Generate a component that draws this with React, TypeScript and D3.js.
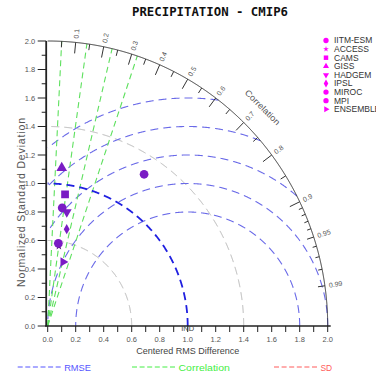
import React, { useEffect, useRef } from 'react';
import * as d3 from 'd3';

// models and their (normalized SD, correlation)
const models = ['IITM-ESM', 'ACCESS', 'CAMS', 'GISS', 'HADGEM', 'IPSL', 'MIROC', 'MPI', 'ENSEMBLE'];
const stdDev = [1.268, 0.566, 0.932, 1.114, 0.811, 0.693, 0.836, 0.585, 0.463];
const correl = [0.543, 0.141, 0.133, 0.09, 0.168, 0.196, 0.124, 0.13, 0.238];
const markerKinds = ['circle', 'star', 'square', 'triUp', 'triDown', 'diamond', 'circle', 'circle', 'triRight'];

const rmseRadii = [0.8, 1.0, 1.2, 1.4, 1.6];
const sdRadii = [0.6, 1.4];
const refSd = 1.0;
const corrLines = [0.05, 0.14, 0.23, 0.32];
const corrMajor = [0.1, 0.2, 0.3, 0.4, 0.5, 0.6, 0.7, 0.8, 0.9, 0.95, 0.99];
const corrMinor = [0.05, 0.15, 0.25, 0.35, 0.45, 0.55, 0.65, 0.75, 0.85, 0.91, 0.92, 0.93, 0.94, 0.96, 0.97, 0.98];
const axisMajor = [0, 0.2, 0.4, 0.6, 0.8, 1.0, 1.2, 1.4, 1.6, 1.8, 2.0];
const axisMinor = [0.1, 0.3, 0.5, 0.7, 0.9, 1.1, 1.3, 1.5, 1.7, 1.9];
const legendItems = ['RMSE', 'Correlation', 'SD'];
const legendColors = ['#5555ff', '#44ee44', '#ff5a5a'];

const W = 376;
const H = 375;
const SANS = '"Liberation Sans", Arial, sans-serif';

const TaylorChart = () => {
  const svgRef = useRef(null);

  useEffect(() => {
    const svg = d3.select(svgRef.current);
    svg.selectAll('*').remove();

    const x = d3.scaleLinear().domain([0, 2]).range([47.7, 327.7]);
    const y = d3.scaleLinear().domain([0, 2]).range([326, 41]);
    const maxR = 2;

    const inside = (d) => d[0] >= -1e-9 && d[1] >= -1e-9 && d[0] * d[0] + d[1] * d[1] <= maxR * maxR + 1e-9;
    const line = d3.line().x(d => x(d[0])).y(d => y(d[1])).defined(inside);

    const circlePts = (cx, r) => d3.range(0, 1441).map(i => {
      const a = Math.PI * i / 1440;
      return [cx + r * Math.cos(a), r * Math.sin(a)];
    });

    const g = svg.append('g');

    // SD circles (gray)
    g.selectAll('.sd').data(sdRadii).join('path')
      .attr('class', 'sd')
      .attr('d', r => line(circlePts(0, r)))
      .attr('fill', 'none').attr('stroke', '#b4b4b4').attr('stroke-width', 1)
      .attr('stroke-dasharray', '8,5');

    // RMSE circles centred at the reference
    g.selectAll('.rmse').data(rmseRadii).join('path')
      .attr('class', 'rmse')
      .attr('d', r => line(circlePts(refSd, r)))
      .attr('fill', 'none').attr('stroke', '#6a6ae8').attr('stroke-width', 1.1)
      .attr('stroke-dasharray', '8,5');

    // correlation lines
    g.selectAll('.corr').data(corrLines).join('line')
      .attr('class', 'corr')
      .attr('x1', x(0)).attr('y1', y(0))
      .attr('x2', c => x(maxR * c)).attr('y2', c => y(maxR * Math.sqrt(1 - c * c)))
      .attr('stroke', '#5ee05e').attr('stroke-width', 1.1)
      .attr('stroke-dasharray', '6,4');

    // reference SD arc
    g.append('path')
      .attr('d', line(circlePts(0, refSd)))
      .attr('fill', 'none').attr('stroke', '#1f1fe0').attr('stroke-width', 1.8)
      .attr('stroke-dasharray', '8,5');

    // outer arc
    g.append('path')
      .attr('d', line(circlePts(0, maxR)))
      .attr('fill', 'none').attr('stroke', '#333').attr('stroke-width', 1);

    const ox = x(0), oy = y(0);
    const tickGeom = (c) => {
      const px = x(maxR * c), py = y(maxR * Math.sqrt(1 - c * c));
      const dx = ox - px, dy = oy - py;
      const len = Math.hypot(dx, dy);
      return { px, py, ux: dx / len, uy: dy / len, ang: Math.atan2(oy - py, px - ox) * 180 / Math.PI };
    };

    g.selectAll('.ctick').data(corrMajor.concat(corrMinor)).join('line')
      .attr('class', 'ctick')
      .each(function (c) {
        const t = tickGeom(c);
        const l = c < 0.92 && corrMajor.includes(c) ? 11 : (corrMajor.includes(c) ? 7 : (c > 0.9 ? 4 : 6));
        d3.select(this)
          .attr('x1', t.px).attr('y1', t.py)
          .attr('x2', t.px + l * t.ux).attr('y2', t.py + l * t.uy);
      })
      .attr('stroke', '#333').attr('stroke-width', 1);

    g.selectAll('.clabel').data(corrMajor).join('text')
      .attr('class', 'clabel')
      .attr('transform', c => {
        const t = tickGeom(c);
        return `translate(${t.px - 4 * t.ux},${t.py - 4 * t.uy}) rotate(${-t.ang})`;
      })
      .attr('dy', '0.35em')
      .attr('font-family', SANS).attr('font-size', 7).attr('fill', '#555')
      .text(c => String(c));

    {
      const a = 45 * Math.PI / 180;
      g.append('text')
        .attr('transform', `translate(${x(2.17 * Math.cos(a))},${y(2.17 * Math.sin(a))}) rotate(45)`)
        .attr('text-anchor', 'middle').attr('dy', '0.35em')
        .attr('font-family', SANS).attr('font-size', 8.5).attr('fill', '#555')
        .attr('textLength', 46).attr('lengthAdjust', 'spacingAndGlyphs')
        .text('Correlation');
    }

    // axes
    const axisColor = '#222';
    g.append('line').attr('x1', ox - 1.5).attr('x2', ox - 1.5).attr('y1', y(2)).attr('y2', oy + 0.5)
      .attr('stroke', axisColor).attr('stroke-width', 1.8);
    g.append('line').attr('x1', ox - 2.5).attr('x2', x(2) + 3).attr('y1', oy).attr('y2', oy)
      .attr('stroke', axisColor).attr('stroke-width', 1.6);

    g.selectAll('.ytm').data(axisMajor).join('line')
      .attr('class', 'ytm')
      .attr('x1', ox - 10).attr('x2', ox - 1.5).attr('y1', d => y(d)).attr('y2', d => y(d))
      .attr('stroke', axisColor).attr('stroke-width', 1);
    g.selectAll('.ytn').data(axisMinor).join('line')
      .attr('class', 'ytn')
      .attr('x1', ox - 6).attr('x2', ox - 1.5).attr('y1', d => y(d)).attr('y2', d => y(d))
      .attr('stroke', axisColor).attr('stroke-width', 1);
    g.selectAll('.ytl').data(axisMajor).join('text')
      .attr('class', 'ytl')
      .attr('x', ox - 12.5).attr('y', d => y(d)).attr('dy', '0.35em')
      .attr('text-anchor', 'end')
      .attr('font-family', SANS).attr('font-size', 7.5).attr('fill', '#555')
      .text(d => d.toFixed(1));

    g.selectAll('.xt').data(axisMajor.concat(axisMinor)).join('line')
      .attr('class', 'xt')
      .attr('x1', d => x(d)).attr('x2', d => x(d)).attr('y1', oy).attr('y2', oy + 6)
      .attr('stroke', axisColor).attr('stroke-width', 1);
    g.selectAll('.xtl').data(axisMajor).join('text')
      .attr('class', 'xtl')
      .attr('x', d => x(d)).attr('y', oy + 16)
      .attr('text-anchor', 'middle')
      .attr('font-family', SANS).attr('font-size', 7.5).attr('fill', '#555')
      .text(d => d.toFixed(1));

    g.append('text')
      .attr('x', x(refSd)).attr('y', oy + 5)
      .attr('text-anchor', 'middle')
      .attr('font-family', SANS).attr('font-size', 7.5).attr('fill', '#444')
      .text('IND');

    g.append('text')
      .attr('x', 187.7).attr('y', 353.5)
      .attr('text-anchor', 'middle')
      .attr('font-family', SANS).attr('font-size', 9).attr('fill', '#444')
      .attr('textLength', 103).attr('lengthAdjust', 'spacingAndGlyphs')
      .text('Centered RMS Difference');

    g.append('text')
      .attr('transform', 'translate(24.5,202.5) rotate(-90)')
      .attr('text-anchor', 'middle')
      .attr('font-family', SANS).attr('font-size', 10.5).attr('fill', '#555')
      .attr('textLength', 169).attr('lengthAdjust', 'spacing')
      .text('Normalized Standard Deviation');

    // markers
    const symFor = (k, size) => {
      const types = { circle: d3.symbolCircle, star: d3.symbolStar, square: d3.symbolSquare,
        triUp: d3.symbolTriangle, triDown: d3.symbolTriangle, diamond: d3.symbolDiamond, triRight: d3.symbolTriangle };
      return d3.symbol().type(types[k]).size(size)();
    };
    const rot = { triDown: 180, triRight: 90 };
    const plotSize = { circle: 60, star: 18, square: 60, triUp: 50, triDown: 42, diamond: 30, triRight: 36 };
    const legSize = { circle: 22, star: 10, square: 20, triUp: 16, triDown: 16, diamond: 18, triRight: 16 };

    const pts = models.map((m, i) => ({
      m, k: markerKinds[i],
      px: x(stdDev[i] * correl[i]), py: y(stdDev[i] * Math.sqrt(1 - correl[i] * correl[i])),
    }));

    g.selectAll('.pt').data(pts).join('path')
      .attr('class', 'pt')
      .attr('transform', d => `translate(${d.px},${d.py}) rotate(${rot[d.k] || 0})`)
      .attr('d', d => symFor(d.k, plotSize[d.k]))
      .attr('fill', d => d.k === 'star' ? '#4a1070' : '#7a1cc4');

    // model legend (right)
    const ly = d3.scalePoint().domain(models).range([40.5, 109.3]);
    g.selectAll('.lm').data(pts).join('path')
      .attr('class', 'lm')
      .attr('transform', d => `translate(326,${ly(d.m)}) rotate(${rot[d.k] || 0})`)
      .attr('d', d => symFor(d.k, legSize[d.k]))
      .attr('fill', '#ff00ff');
    g.selectAll('.lt').data(models).join('text')
      .attr('class', 'lt')
      .attr('x', 334).attr('y', d => ly(d)).attr('dy', '0.35em')
      .attr('font-family', SANS).attr('font-size', 8.5).attr('fill', '#333')
      .text(d => d);

    // bottom legend
    const lx = [17.7, 132, 274];
    const tl = [26.7, 51.3, 11.7];
    legendItems.forEach((name, i) => {
      g.append('line')
        .attr('x1', lx[i]).attr('x2', lx[i] + 45.5).attr('y1', 367).attr('y2', 367)
        .attr('stroke', legendColors[i]).attr('stroke-width', 1)
        .attr('stroke-dasharray', '5,2.6');
      g.append('text')
        .attr('x', lx[i] + 46.5).attr('y', 370.5)
        .attr('font-family', SANS).attr('font-size', 9.5).attr('fill', legendColors[i])
        .attr('textLength', tl[i]).attr('lengthAdjust', 'spacingAndGlyphs')
        .text(name);
    });

    // title
    g.append('text')
      .attr('x', 210).attr('y', 16)
      .attr('text-anchor', 'middle')
      .attr('font-family', '"DejaVu Sans Mono", "Liberation Mono", monospace')
      .attr('font-weight', 'bold').attr('font-size', 12).attr('fill', '#111')
      .attr('textLength', 156).attr('lengthAdjust', 'spacingAndGlyphs')
      .text('PRECIPITATION - CMIP6');
  }, []);

  return (
    <svg ref={svgRef} width={W} height={H}
      style={{ position: 'absolute', left: 0, top: 0, background: '#fff' }} />
  );
};

export default function App() {
  return <TaylorChart />;
}
